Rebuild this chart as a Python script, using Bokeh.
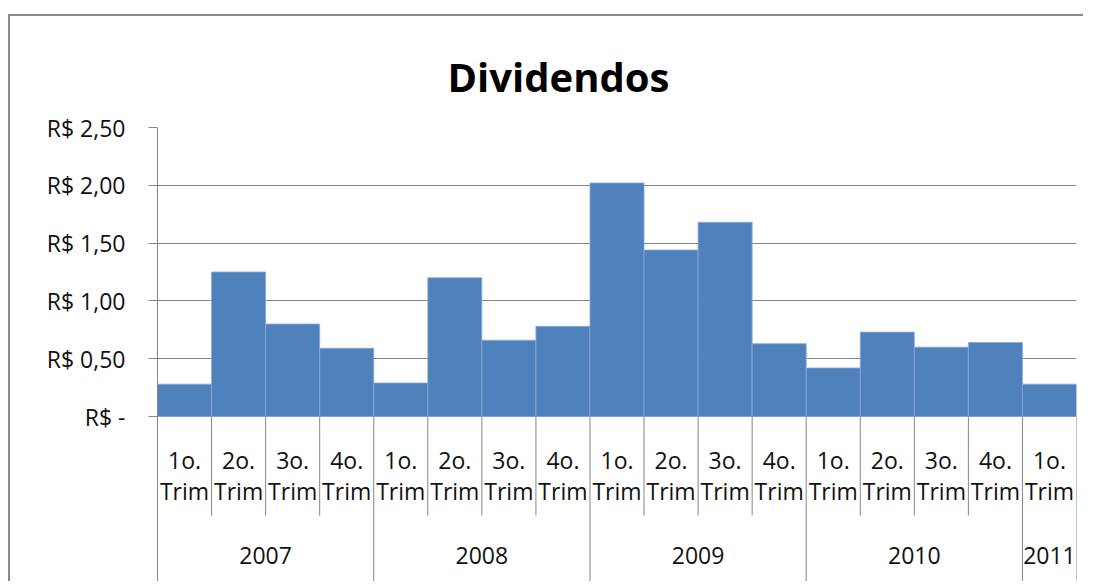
from bokeh.plotting import figure
from bokeh.models import Range1d, FixedTicker, ColumnDataSource
from bokeh.core.properties import value
from bokeh.embed import file_html
from bokeh.resources import INLINE

# ---- data ----
title_text = "Dividendos"
years = ["2007", "2008", "2009", "2010", "2011"]
quarters_per_year = [4, 4, 4, 4, 1]
quarter_labels = ["1o.", "2o.", "3o.", "4o."]
quarter_suffix = "Trim"
dividends = [0.28, 1.25, 0.80, 0.59,
             0.29, 1.20, 0.66, 0.78,
             2.02, 1.44, 1.68, 0.63,
             0.42, 0.73, 0.60, 0.64,
             0.28]
y_ticks = [0, 0.5, 1, 1.5, 2, 2.5]
y_tick_labels = ["R$ -", "R$ 0,50", "R$ 1,00", "R$ 1,50", "R$ 2,00", "R$ 2,50"]

# ---- layout constants (pixels) ----
W, H = 1075, 567
FRAME_TOP, ZERO_Y, FRAME_BOTTOM = 111, 400, 567
px_per_unit = (ZERO_Y - FRAME_TOP) / y_ticks[-1]
y_start = -(FRAME_BOTTOM - ZERO_Y) / px_per_unit

def px_below_zero(px):
    return -px / px_per_unit

FONT = "Open Sans"
GRAY = "#868686"
BLUE = "#4F81BD"

n = len(dividends)
centers = [i + 0.5 for i in range(n)]

p = figure(width=W, height=H, output_backend="svg", toolbar_location=None,
           x_range=Range1d(0, n), y_range=Range1d(y_start, y_ticks[-1]),
           x_axis_location=None,
           min_border_left=147, min_border_right=9,
           min_border_top=FRAME_TOP, min_border_bottom=0)
p.styles = {"border-top": "2px solid #8a8a8a", "border-left": "2px solid #8a8a8a",
            "margin-top": "14px", "margin-left": "8px", "padding-right": "6px"}
p.outline_line_color = None
p.background_fill_color = "white"
p.border_fill_color = "white"

# title
p.title.text = title_text
p.title.align = "left"
p.title.offset = 290
p.title.vertical_align = "top"
p.title.text_font = FONT
p.title.text_font_size = "40px"
p.title.text_font_style = "bold"
p.title.text_color = "black"
p.title.standoff = 44

# grid
p.xgrid.visible = False
p.ygrid.ticker = FixedTicker(ticks=y_ticks)
p.ygrid.grid_line_color = GRAY
p.ygrid.grid_line_width = 1

# y axis
yax = p.yaxis[0]
yax.ticker = FixedTicker(ticks=y_ticks)
yax.major_label_overrides = {(int(t) if t == int(t) else t): lab
                             for t, lab in zip(y_ticks, y_tick_labels)}
yax.axis_line_color = GRAY
yax.major_tick_line_color = GRAY
yax.major_tick_out = 9
yax.major_tick_in = 0
yax.minor_tick_line_color = None
yax.major_label_standoff = 23
yax.major_label_text_font = FONT
yax.major_label_text_font_size = "23px"
yax.major_label_text_color = "#111111"

# bars
src = ColumnDataSource(dict(x=centers, top=dividends))
p.vbar(x="x", top="top", bottom=0, width=1, source=src,
       fill_color=BLUE, line_color="#8AAAD4", line_width=0.8)

# category separators
boundaries_year = []
acc = 0
for q in quarters_per_year:
    boundaries_year.append(acc)
    acc += q
boundaries_year.append(acc)
all_bounds = list(range(0, n + 1))
quarter_bounds = [b for b in all_bounds if b not in boundaries_year]
q_sep_bottom = px_below_zero(99)
p.segment(x0=quarter_bounds, y0=[0] * len(quarter_bounds),
          x1=quarter_bounds, y1=[q_sep_bottom] * len(quarter_bounds),
          line_color=GRAY, line_width=1)
p.segment(x0=boundaries_year, y0=[0] * len(boundaries_year),
          x1=boundaries_year, y1=[y_start] * len(boundaries_year),
          line_color=GRAY, line_width=1)

# quarter labels
q_labels = []
for q in quarters_per_year:
    q_labels += quarter_labels[:q]
p.text(x=centers, y=[px_below_zero(43)] * n, text=q_labels,
       text_align="center", text_baseline="middle",
       text_font=value(FONT), text_font_size="23px", text_color="#111111")
p.text(x=centers, y=[px_below_zero(74)] * n, text=[quarter_suffix] * n,
       text_align="center", text_baseline="middle",
       text_font=value(FONT), text_font_size="23px", text_color="#111111")

# year labels
year_centers = [(boundaries_year[i] + boundaries_year[i + 1]) / 2 for i in range(len(years))]
p.text(x=year_centers, y=[px_below_zero(139)] * len(years), text=years,
       text_align="center", text_baseline="middle",
       text_font=value(FONT), text_font_size="23px", text_color="#111111")

open("out.html", "w").write(file_html(p, INLINE))
